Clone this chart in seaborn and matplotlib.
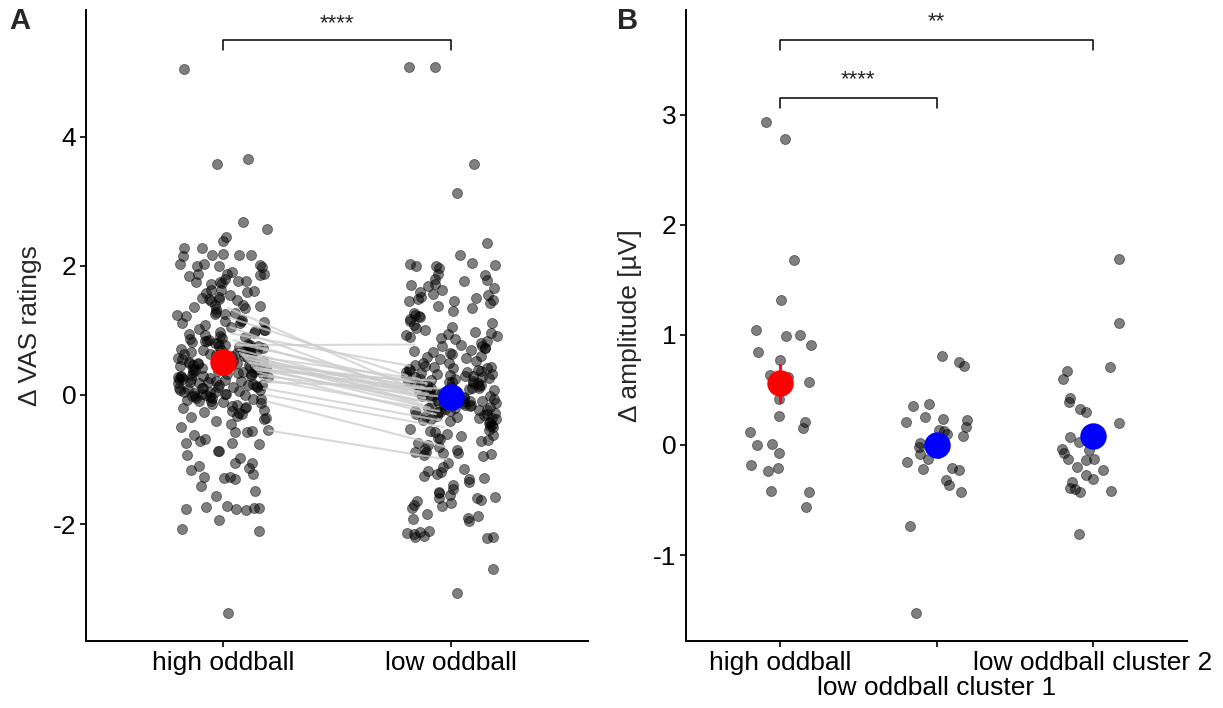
import numpy as np
import pandas as pd
import matplotlib
matplotlib.use('Agg')
import matplotlib.pyplot as plt
import seaborn as sns

# --- Datos panel A: diferencias en VAS (puntos individuales) ---
cond_a = ['high oddball', 'low oddball']

vas_high = [
    5.05, 3.66, 3.58,
    2.68, 2.57, 2.44, 2.39, 2.28, 2.27, 2.18, 2.17, 2.17, 2.16, 2.15, 2.03, 2.01, 2.0, 2.0, 1.98, 2.02,
    1.9, 1.88, 1.87, 1.87, 1.86, 1.84, 1.79, 1.77, 1.76, 1.75, 1.75, 1.73, 1.72, 1.63, 1.62, 1.61, 1.6,
    1.58, 1.55, 1.5, 1.49, 1.48, 1.47, 1.46, 1.52,
    1.4, 1.39, 1.37, 1.36, 1.35, 1.33, 1.28, 1.27, 1.26, 1.25, 1.24, 1.22, 1.16, 1.15, 1.14, 1.13, 1.12,
    1.11, 1.08, 1.05, 1.02, 1.01, 1.0, 0.99, 0.98, 0.96,
    0.94, 0.93, 0.91, 0.9, 0.88, 0.87, 0.85, 0.84, 0.83, 0.82, 0.81, 0.8,
    0.79, 0.78, 0.77, 0.76, 0.76, 0.75, 0.74, 0.73, 0.72, 0.71, 0.7, 0.7, 0.69, 0.68, 0.67, 0.66, 0.65,
    0.64, 0.63, 0.62, 0.62, 0.61, 0.6, 0.59, 0.58, 0.57, 0.56, 0.56, 0.55, 0.54, 0.53, 0.52, 0.52, 0.51,
    0.5, 0.5,
    0.49, 0.48, 0.48, 0.47, 0.46, 0.45, 0.45, 0.44, 0.43, 0.42, 0.41, 0.4, 0.4, 0.39, 0.38, 0.37, 0.36,
    0.35, 0.35, 0.34, 0.33, 0.32, 0.31, 0.3, 0.3, 0.29, 0.28, 0.27, 0.26, 0.25, 0.25, 0.24, 0.23, 0.22,
    0.21, 0.2, 0.2, 0.46, 0.33, 0.27,
    0.19, 0.18, 0.17, 0.16, 0.15, 0.15, 0.14, 0.13, 0.12, 0.11, 0.1, 0.1, 0.09, 0.08, 0.07, 0.06, 0.05,
    0.05, 0.04, 0.03, 0.02, 0.01, 0.0, 0.0, -0.01, -0.02, -0.03, -0.04, -0.05, -0.06, -0.07, -0.08,
    -0.09, -0.1, 0.12, 0.02,
    -0.11, -0.12, -0.14, -0.15, -0.17, -0.18, -0.2, -0.21, -0.23, -0.25, -0.26, -0.28, -0.3, -0.32,
    -0.34, -0.36, -0.38, -0.4,
    -0.45, -0.5, -0.55, -0.56, -0.57, -0.58, -0.62, -0.68, -0.72, -0.74, -0.75, -0.76, -0.87, -0.87,
    -0.93, -0.98, -1.05, -1.05, -1.1, -1.13, -1.16, -1.22, -1.27, -1.27, -1.28, -1.3, -1.41, -1.48,
    -1.56, -1.75, -1.75, -1.76, -1.76, -1.74, -1.78, -1.72, -1.94, -2.1, -2.08, -3.37,
]

vas_low = [
    5.07, 5.07, 3.57, 3.13, 2.36, 2.16,
    2.0, 2.01, 1.99, 2.02, 2.04, 1.97,
    1.88, 1.85, 1.8, 1.78, 1.76, 1.72, 1.7, 1.68, 1.65, 1.62, 1.6, 1.57, 1.55, 1.52,
    1.5, 1.48, 1.47, 1.46, 1.45, 1.42, 1.38, 1.35, 1.3, 1.27, 1.24, 1.22, 1.2, 1.18, 1.15, 1.12,
    1.08, 1.05, 1.03, 1.0, 0.98, 0.96, 0.95, 0.93, 0.92, 0.9, 0.88, 0.86, 0.83, 0.8,
    0.78, 0.76, 0.75, 0.73, 0.72, 0.7, 0.68, 0.66, 0.65, 0.63, 0.6, 0.58, 0.57, 0.55, 0.53, 0.5,
    0.49, 0.47, 0.45, 0.44, 0.43, 0.42, 0.41, 0.4,
    0.39, 0.38, 0.37, 0.36, 0.35, 0.34, 0.33, 0.32, 0.31, 0.3, 0.29, 0.28, 0.27, 0.26, 0.25, 0.24,
    0.23, 0.22, 0.21, 0.2, 0.19, 0.18, 0.17, 0.16, 0.15, 0.14, 0.13, 0.12, 0.11, 0.1, 0.09, 0.08,
    0.07, 0.06, 0.05, 0.04, 0.03, 0.02, 0.01, 0.0, 0.3, 0.2, 0.1, 0.05,
    -0.01, -0.02, -0.03, -0.04, -0.05, -0.06, -0.07, -0.08, -0.09, -0.1, -0.11, -0.12, -0.13, -0.14,
    -0.15, -0.16, -0.17, -0.18, -0.19, -0.2, -0.21, -0.22, -0.23, -0.24, -0.25, -0.26, -0.27, -0.28,
    -0.29, -0.3, -0.31, -0.32, -0.33, -0.34, -0.35, -0.36, -0.37, -0.38, -0.39, -0.4, -0.05, -0.15,
    -0.25, -0.1,
    -0.42, -0.44, -0.46, -0.48, -0.5, -0.52, -0.54, -0.56, -0.58, -0.6, -0.62, -0.64, -0.66, -0.68,
    -0.7, -0.72, -0.75, -0.78, -0.8, -0.83, -0.86, -0.88,
    -0.9, -0.92, -0.95, -0.88, -0.93, -0.9, -1.15, -1.2, -1.18, -1.22, -1.25, -1.28, -1.3, -1.12,
    -1.35, -1.4, -1.45, -1.52, -1.55, -1.58, -1.6, -1.62, -1.65, -1.68, -1.6, -1.7, -1.72, -1.75,
    -1.85, -1.88, -1.9, -1.95, -1.92, -2.12, -2.14, -2.16, -2.2, -2.2, -2.21, -2.18, -2.1, -2.69,
    -3.06, -1.5, -1.05,
]

# medias por sujeto (lineas grises que unen ambas condiciones)
subj_high = [1.35, 1.2, 1.05, 0.95, 0.85, 0.8, 0.77, 0.7, 0.65, 0.62, 0.6, 0.58, 0.55, 0.52,
             0.5, 0.48, 0.45, 0.42, 0.4, 0.38, 0.35, 0.3, 0.25, 0.2, 0.1, 0.0, -0.1, -0.55]
subj_low = [0.15, 0.3, 0.05, 0.45, 0.1, 0.2, 0.78, 0.0, -0.1, 0.25, 0.05, -0.15, 0.12, -0.05,
            0.18, 0.02, -0.2, 0.08, -0.12, 0.22, -0.3, -0.02, -0.25, 0.1, -0.4, -0.5, -0.8, -1.0]

# --- Datos panel B: diferencias de amplitud ---
cond_b = ['high oddball', 'low oddball cluster 1', 'low oddball cluster 2']
amp_high = [2.93, 2.78, 1.68, 1.32, 1.00, 1.04, 0.99, 0.91, 0.84, 0.77, 0.62, 0.64, 0.57, 0.42,
            0.26, 0.21, 0.12, 0.15, 0.0, 0.01, -0.07, -0.21, -0.18, -0.24, -0.42, -0.43, -0.56]
amp_c1 = [0.81, 0.72, 0.75, 0.37, 0.35, 0.24, 0.25, 0.21, 0.23, 0.16, 0.14, 0.13, 0.10, 0.08, 0.05,
          -0.01, -0.02, 0.02, -0.07, -0.08, -0.15, -0.13, -0.21, -0.22, -0.23, -0.36, -0.32, -0.43,
          -0.74, -1.53]
amp_c2 = [1.69, 1.11, 0.67, 0.71, 0.60, 0.43, 0.39, 0.33, 0.30, 0.20, 0.11, 0.07, 0.03, -0.04,
          -0.07, -0.05, -0.13, -0.20, -0.14, -0.13, -0.23, -0.27, -0.34, -0.31, -0.40, -0.43, -0.39,
          -0.42, -0.81]

df_a = pd.DataFrame({'cond': [cond_a[0]] * len(vas_high) + [cond_a[1]] * len(vas_low),
                     'val': vas_high + vas_low})
df_subj = pd.DataFrame({'cond': [cond_a[0]] * len(subj_high) + [cond_a[1]] * len(subj_low),
                        'val': subj_high + subj_low})
df_b = pd.DataFrame({'cond': [cond_b[0]] * len(amp_high) + [cond_b[1]] * len(amp_c1)
                     + [cond_b[2]] * len(amp_c2),
                     'val': amp_high + amp_c1 + amp_c2})

sns.set_style('white')
plt.rcParams['font.family'] = ['Liberation Sans', 'DejaVu Sans']
plt.rcParams['axes.unicode_minus'] = False

fig = plt.figure(figsize=(12.23, 7.08), dpi=100)
W, H = 1223, 708
axA = fig.add_axes([86 / W, 67 / H, (588 - 86) / W, 631 / H])
axB = fig.add_axes([686 / W, 67 / H, (1187 - 686) / W, 631 / H])

np.random.seed(7)
punto = dict(color='black', alpha=0.5, size=7.2, linewidth=0.6, edgecolor='black', jitter=0.2)

# --- Panel A ---
sns.stripplot(data=df_a, x='cond', y='val', order=cond_a, ax=axA, zorder=1, **punto)
n = len(subj_high)
off_hi = np.linspace(0.02, 0.2, n)
off_lo = -np.linspace(0.2, 0.02, n)
for i in range(n):
    axA.plot([0 + off_hi[i], 1 + off_lo[i]], [subj_high[i], subj_low[i]],
             color='#cccccc', alpha=0.75, lw=1.5, zorder=3)
sns.pointplot(data=df_subj, x='cond', y='val', order=cond_a, hue='cond', hue_order=cond_a,
              palette=['red', 'blue'], errorbar='se', markers='o', markersize=17,
              linestyle='none', err_kws={'linewidth': 2, 'zorder': 4}, legend=False,
              ax=axA, zorder=5)
axA.plot([0, 0, 1, 1], [5.34, 5.49, 5.49, 5.34], color='black', lw=1.1)
axA.text(0.5, 5.66, '****', ha='center', va='baseline', fontsize=16)
axA.set_xlim(-0.6, 1.6)
axA.set_ylim(-3.81, 5.96)
axA.set_yticks([-2, 0, 2, 4])
axA.set_ylabel('\u0394 VAS ratings', fontsize=19, labelpad=8)

# --- Panel B ---
sns.stripplot(data=df_b, x='cond', y='val', order=cond_b, ax=axB, zorder=1, **punto)
sns.pointplot(data=df_b, x='cond', y='val', order=cond_b, hue='cond', hue_order=cond_b,
              palette=['red', 'blue', 'blue'], errorbar='se', markers='o', markersize=17,
              linestyle='none', err_kws={'linewidth': 2, 'zorder': 4}, legend=False,
              ax=axB, zorder=5)
axB.plot([0, 0, 2, 2], [3.59, 3.68, 3.68, 3.59], color='black', lw=1.1)
axB.text(1.0, 3.79, '**', ha='center', va='baseline', fontsize=16)
axB.plot([0, 0, 1, 1], [3.064, 3.155, 3.155, 3.064], color='black', lw=1.1)
axB.text(0.5, 3.27, '****', ha='center', va='baseline', fontsize=16)
axB.set_xlim(-0.6, 2.6)
axB.set_ylim(-1.78, 3.95)
axB.set_yticks([-1, 0, 1, 2, 3])
axB.set_ylabel('\u0394 amplitude [\u00b5V]', fontsize=19, labelpad=8)

for ax in (axA, axB):
    sns.despine(ax=ax)
    ax.set_xlabel('')
    for s in ('left', 'bottom'):
        ax.spines[s].set_linewidth(1.4)
        ax.spines[s].set_color('black')
    ax.tick_params(axis='both', length=4, width=1.2, labelsize=19, pad=3, colors='black',
                   direction='out', left=True, bottom=True)

# etiqueta central en segunda fila
axB.xaxis.get_major_ticks()[1].set_pad(3 + 18)

fig.text(20 / W, 1 - 21 / H, 'A', fontsize=21, fontweight='bold', ha='center', va='center')
fig.text(628 / W, 1 - 21 / H, 'B', fontsize=21, fontweight='bold', ha='center', va='center')

fig.savefig('out.png', dpi=100)
plt.close()
